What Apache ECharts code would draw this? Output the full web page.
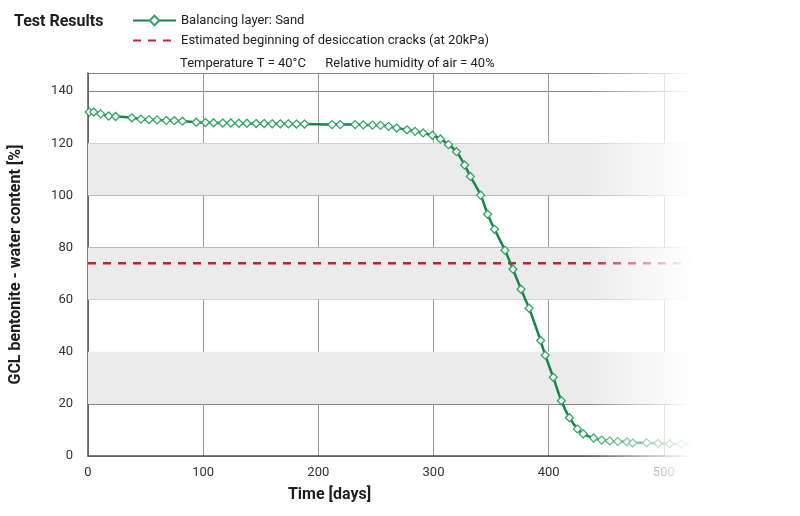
<!DOCTYPE html>
<html>
<head>
<meta charset="utf-8">
<script src="https://cdn.jsdelivr.net/npm/echarts@6/dist/echarts.min.js"></script>
<style>
  html, body { margin: 0; padding: 0; background: #fff; }
  #chart { width: 800px; height: 516px; }
</style>
</head>
<body>
<div id="chart"></div>
<script>
// test data
var days = [1, 5, 11, 18, 24, 38, 46, 53, 60, 68, 75, 82, 94, 102, 109, 117, 124, 131, 138, 146,
    153, 160, 167, 174, 181, 188, 212, 219, 232, 239, 247, 254, 261, 268, 277, 284, 291, 299, 306,
    313, 320, 327, 332, 341, 347, 353, 362, 369, 376, 383, 393, 397, 404, 411, 418, 425, 430, 439,
    446, 453, 460, 468, 473, 485, 495, 505, 515, 525, 535, 545, 555];
var water = [132.0, 132.0, 131.3, 130.5, 130.3, 129.8, 129.3, 129.1, 129.0, 128.8, 128.7, 128.5,
    128.1, 128.0, 127.9, 127.8, 127.8, 127.7, 127.7, 127.6, 127.6, 127.5, 127.5, 127.5, 127.4, 127.4,
    127.2, 127.2, 127.2, 127.1, 127.0, 126.9, 126.5, 125.9, 125.2, 124.6, 124.0, 123.1, 121.7, 119.5,
    116.8, 111.7, 107.3, 100.1, 92.8, 87.0, 79.0, 71.7, 64.0, 56.7, 44.3, 38.7, 30.2, 21.2, 14.7,
    10.4, 8.5, 6.9, 6.1, 5.8, 5.6, 5.4, 5.0, 5.1, 4.8, 4.7, 4.6, 4.5, 4.4, 4.4, 4.3];
var crackLevel = 74;
var crackDays = [0, 600];
var grayBands = [[20, 40], [60, 80], [100, 120]];

var seriesNames = ['Balancing layer: Sand', 'Estimated beginning of desiccation cracks (at 20kPa)'];
var fontName = "'Liberation Sans Narrow', 'Roboto', sans-serif";

var myChart = echarts.init(document.getElementById('chart'));

var sandData = days.map(function (d, i) { return [d, water[i]]; });
var crackData = crackDays.map(function (d) { return [d, crackLevel]; });
var bandData = grayBands.map(function (b) { return [{ yAxis: b[0] }, { yAxis: b[1] }]; });

var option = {
    animation: false,
    textStyle: { fontFamily: fontName },
    title: [
        {
            text: 'Test Results',
            left: 9, top: 9,
            textStyle: { fontSize: 16, fontWeight: 'bold', color: '#1e1e1e', fontFamily: fontName }
        },
        {
            text: 'Temperature T = 40°C      Relative humidity of air = 40%',
            left: 175, top: 52,
            textStyle: { fontSize: 13, fontWeight: 'normal', color: '#222', fontFamily: fontName }
        }
    ],
    legend: {
        orient: 'vertical',
        left: 127, top: 9,
        itemWidth: 43, itemHeight: 12,
        itemGap: 7,
        textStyle: { fontSize: 13, color: '#222', fontFamily: fontName },
        data: [
            { name: seriesNames[0] },
            { name: seriesNames[1], itemStyle: { opacity: 0 } }
        ]
    },
    grid: { left: 87, right: 21, top: 73, bottom: 60 },
    xAxis: {
        type: 'value',
        min: 0, max: 600, interval: 100,
        name: 'Time [days]',
        nameLocation: 'middle',
        nameGap: 31,
        nameTextStyle: { fontSize: 16, fontWeight: 'bold', color: '#1e1e1e', padding: [0, 208, 0, 0] },
        axisLine: { lineStyle: { color: '#555', width: 1.5 } },
        axisTick: { show: false },
        axisLabel: { color: '#333', fontSize: 13, margin: 10 },
        splitLine: { show: true, lineStyle: { color: '#999', width: 1 } }
    },
    yAxis: {
        type: 'value',
        min: 0, max: 147, interval: 20,
        name: 'GCL bentonite - water content [%]',
        nameLocation: 'middle',
        nameGap: 64,
        nameTextStyle: { fontSize: 16, fontWeight: 'bold', color: '#1e1e1e' },
        axisLine: { show: true, lineStyle: { color: '#555', width: 1.5 } },
        axisTick: { show: false },
        axisLabel: { color: '#333', fontSize: 13, margin: 15, showMaxLabel: false },
        splitLine: { show: true, lineStyle: { color: '#858585', width: 1 } }
    },
    series: [
        {
            name: seriesNames[0],
            type: 'line',
            data: sandData,
            smooth: 0.3,
            symbol: 'diamond',
            symbolSize: 8,
            showAllSymbol: true,
            lineStyle: { color: '#1b8447', width: 2.5 },
            itemStyle: { color: '#fff', borderColor: '#35a466', borderWidth: 1.3 },
            z: 5
        },
        {
            name: seriesNames[1],
            type: 'line',
            data: crackData,
            showSymbol: false,
            symbol: 'none',
            lineStyle: { color: '#c8202c', width: 2.5, type: [8, 7] },
            itemStyle: { color: '#c8202c' },
            markArea: {
                silent: true,
                itemStyle: { color: '#ebebeb' },
                data: bandData
            },
            z: 4
        }
    ],
    graphic: [
        {
            type: 'rect',
            z: 100,
            shape: { x: 585, y: 68, width: 215, height: 440 },
            style: {
                fill: new echarts.graphic.LinearGradient(0, 0, 1, 0, [
                    { offset: 0, color: 'rgba(255,255,255,0)' },
                    { offset: 0.5, color: 'rgba(255,255,255,1)' },
                    { offset: 1, color: 'rgba(255,255,255,1)' }
                ])
            }
        }
    ]
};

myChart.setOption(option);
</script>
</body>
</html>
